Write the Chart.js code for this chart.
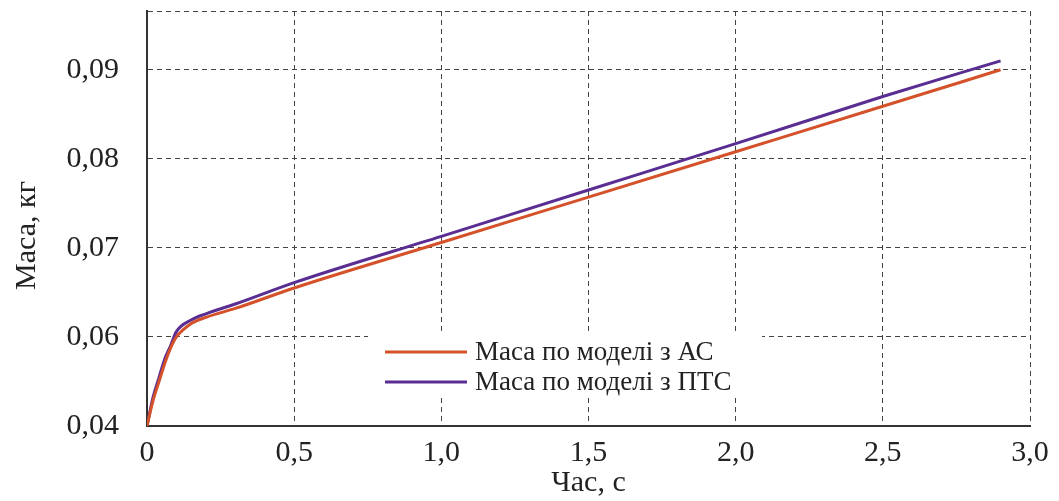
<!DOCTYPE html>
<html>
<head>
<meta charset="utf-8">
<script src="https://cdn.jsdelivr.net/npm/chart.js@4.4.1/dist/chart.umd.min.js"></script>
<style>
html,body{margin:0;padding:0;background:#fff;}
#wrap{width:1059px;height:501px;position:relative;}
</style>
</head>
<body>
<div id="wrap"><canvas id="c" width="1059" height="501"></canvas></div>
<script>
// Time, s
const time = [0, 0.02, 0.04, 0.06, 0.08, 0.1, 0.15, 0.2, 0.3, 0.5, 1.0, 1.5, 2.0, 2.5, 2.9];
// Mass, kg — model with AC
const massAC  = [0.0400, 0.0456, 0.0498, 0.0540, 0.0575, 0.0600, 0.0615, 0.0622, 0.0632, 0.0655, 0.0706, 0.0757, 0.0808, 0.0859, 0.0900];
// Mass, kg — model with PTS
const massPTS = [0.0400, 0.0463, 0.0507, 0.0550, 0.0580, 0.0606, 0.0619, 0.0626, 0.0637, 0.0661, 0.0713, 0.0765, 0.0817, 0.0870, 0.0910];
const seriesLabels = ['Маса по моделі з АС', 'Маса по моделі з ПТС'];
const seriesColors = ['#d4512a', '#5a2d92'];
// y tick values (kg) and labels; axis is broken between 0,04 and 0,06
const yTickValues = [0.04, 0.06, 0.07, 0.08, 0.09];
const yTickLabels = ['0,04', '0,06', '0,07', '0,08', '0,09'];
const yTopValue = 0.0966;
const xTickValues = [0, 0.5, 1.0, 1.5, 2.0, 2.5, 3.0];
const xTickLabels = ['0', '0,5', '1,0', '1,5', '2,0', '2,5', '3,0'];
const xTitle = 'Час, с';
const yTitle = 'Маса, кг';

// broken-axis mapping: kg -> axis units
function toAxis(v){ return v < 0.06 ? (v - 0.04) / 0.02 : 1 + (v - 0.06) / 0.01; }

const FONT = "'Liberation Serif', 'Times New Roman', serif";

const legendPlugin = {
  id: 'inlegend',
  afterDatasetsDraw(chart){
    const ctx = chart.ctx;
    const a = chart.chartArea;
    const bx = a.left + 221, by = a.top + 323, bw = 394, bh = 64;
    ctx.save();
    ctx.fillStyle = '#fff';
    ctx.fillRect(bx, by, bw, bh);
    ctx.font = '27px ' + FONT;
    ctx.textBaseline = 'middle';
    ctx.fillStyle = '#222';
    chart.data.datasets.forEach((ds, i) => {
      const y = by + 18 + i * 30;
      ctx.strokeStyle = ds.borderColor;
      ctx.lineWidth = 3;
      ctx.beginPath();
      ctx.moveTo(bx + 17, y);
      ctx.lineTo(bx + 99, y);
      ctx.stroke();
      ctx.fillText(ds.label, bx + 107, y + 1);
    });
    // y axis title (placed slightly below the plot centre, as in the original)
    ctx.save();
    ctx.translate(35, (a.top + a.bottom) / 2 + 17);
    ctx.rotate(-Math.PI / 2);
    ctx.font = '30px ' + FONT;
    ctx.textAlign = 'center';
    ctx.textBaseline = 'alphabetic';
    ctx.fillStyle = '#222';
    ctx.fillText(yTitle, 0, 0);
    ctx.restore();
    ctx.restore();
  }
};

const datasets = [massAC, massPTS].map((arr, i) => ({
  label: seriesLabels[i],
  data: time.map((t, k) => ({x: t, y: toAxis(arr[k])})),
  borderColor: seriesColors[i],
  backgroundColor: seriesColors[i],
  borderWidth: 3,
  pointRadius: 0,
  cubicInterpolationMode: 'monotone',
  fill: false
}));

const gridStyle = {
  color: '#444',
  lineWidth: 1,
  drawTicks: false
};

new Chart(document.getElementById('c'), {
  type: 'line',
  data: { datasets },
  options: {
    responsive: false,
    animation: false,
    layout: { padding: { top: 11, right: 29, left: 0, bottom: 0 } },
    plugins: { legend: { display: false }, tooltip: { enabled: false } },
    scales: {
      x: {
        type: 'linear',
        min: 0, max: 3,
        afterBuildTicks(s){ s.ticks = xTickValues.map(v => ({value: v})); },
        afterFit(s){ s.height = 75; s.paddingLeft = 0; s.paddingRight = 0; },
        ticks: {
          color: '#222',
          font: { family: FONT, size: 30 },
          padding: 9,
          maxRotation: 0,
          callback: (v, i) => xTickLabels[i]
        },
        grid: gridStyle,
        border: { display: true, color: '#333', width: 2, dash: [5, 4] },
        title: {
          display: true, text: xTitle, color: '#222',
          font: { family: FONT, size: 30 }, padding: { top: -1, bottom: 0 }
        }
      },
      y: {
        type: 'linear',
        min: 0, max: toAxis(yTopValue),
        afterBuildTicks(s){
          s.ticks = yTickValues.map(v => ({value: toAxis(v)})).concat([{value: toAxis(yTopValue)}]);
        },
        afterFit(s){ s.width = 147; s.paddingTop = 0; s.paddingBottom = 0; },
        ticks: {
          color: '#222',
          font: { family: FONT, size: 30 },
          padding: 28,
          callback: (v, i) => (i < yTickLabels.length ? yTickLabels[i] : '')
        },
        grid: gridStyle,
        border: { display: true, color: '#333', width: 2, dash: [5, 4] },
        title: { display: false }
      }
    }
  },
  plugins: [legendPlugin]
});
</script>
</body>
</html>
